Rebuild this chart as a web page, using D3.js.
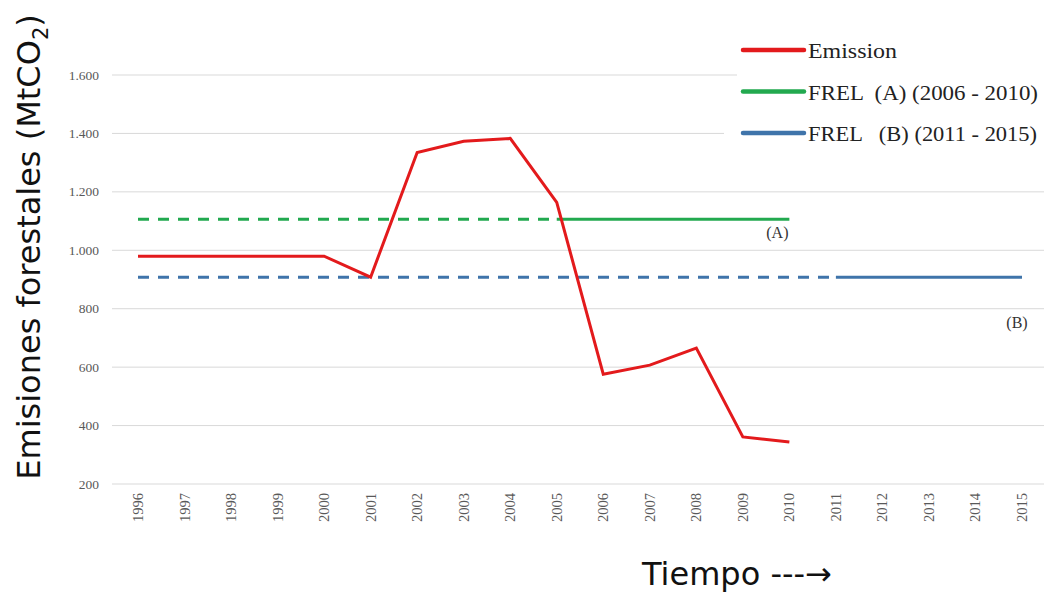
<!DOCTYPE html>
<html><head><meta charset="utf-8">
<script src="https://cdn.jsdelivr.net/npm/d3@7"></script>
<style>body{margin:0;background:#fff}svg{display:block}</style>
</head><body>
<svg id="c" width="1044" height="594"></svg>
<script>
const years = ["1996","1997","1998","1999","2000","2001","2002","2003","2004","2005","2006","2007","2008","2009","2010","2011","2012","2013","2014","2015"];
const emissionYears = ["1996","1997","1998","1999","2000","2001","2002","2003","2004","2005","2006","2007","2008","2009","2010"];
const emission = [980,980,980,980,980,908,1335,1373,1383,1164,576,607,665,361,344];
const frelA = 1106;
const frelB = 908;
const frelADashed = ["1996","2005"], frelASolid = ["2005","2010"];
const frelBDashed = ["1996","2011"], frelBSolid = ["2011","2015"];
const yTicks = [200,400,600,800,1000,1200,1400,1600];
const yTickLabels = ["200","400","600","800","1.000","1.200","1.400","1.600"];
const legendLabels = ["Emission","FREL  (A) (2006 - 2010)","FREL   (B) (2011 - 2015)"];
const colors = {red:"#e31a1c", green:"#22a94f", blue:"#3f74aa"};

const svg = d3.select("#c");
const x = d3.scalePoint().domain(years).range([138,1022]);
const y = d3.scaleLinear().domain([200,1600]).range([484,75]);

// gridlines
svg.append("g").selectAll("line").data(yTicks).join("line")
  .attr("x1",112).attr("x2",1044).attr("y1",d=>y(d)).attr("y2",d=>y(d))
  .attr("stroke","#d9d9d9").attr("stroke-width",1);

// y tick labels
svg.append("g").selectAll("text").data(yTicks).join("text")
  .attr("x",99).attr("y",d=>y(d)+4.5).attr("text-anchor","end")
  .attr("font-family","Liberation Serif").attr("font-size",13.5).attr("fill","#595959")
  .text((d,i)=>yTickLabels[i]);

// x tick labels
svg.append("g").selectAll("text").data(years).join("text")
  .attr("transform",d=>`translate(${x(d)+5},493) rotate(-90)`)
  .attr("text-anchor","end")
  .attr("font-family","Liberation Serif").attr("font-size",14.5).attr("fill","#595959")
  .text(d=>d);

function hline(span, val, color, dashed){
  svg.append("line").attr("x1",x(span[0])).attr("x2",x(span[1]))
    .attr("y1",y(val)).attr("y2",y(val))
    .attr("stroke",color).attr("stroke-width",3)
    .attr("stroke-dasharray",dashed?"11,9":null);
}
hline(frelADashed, frelA, colors.green, true);
hline(frelASolid, frelA, colors.green, false);
hline(frelBDashed, frelB, colors.blue, true);
hline(frelBSolid, frelB, colors.blue, false);

const line = d3.line().x((d,i)=>x(emissionYears[i])).y(d=>y(d));
svg.append("path").datum(emission).attr("d",line)
  .attr("fill","none").attr("stroke",colors.red).attr("stroke-width",3).attr("stroke-linejoin","miter");

// series labels
svg.append("text").attr("x",x("2010")-12).attr("y",y(frelA)+19).attr("text-anchor","middle")
  .attr("font-family","Liberation Serif").attr("font-size",16).attr("fill","#333").text("(A)");
svg.append("text").attr("x",x("2015")-5).attr("y",y(frelB)+51).attr("text-anchor","middle")
  .attr("font-family","Liberation Serif").attr("font-size",16).attr("fill","#333").text("(B)");

// legend
svg.append("rect").attr("x",737).attr("y",28).attr("width",307).attr("height",80).attr("fill","#fff");
svg.append("rect").attr("x",724).attr("y",108).attr("width",320).attr("height",45).attr("fill","#fff");
const lg = svg.append("g");
const legColors=[colors.red,colors.green,colors.blue];
const legLengths=[89,230,229];
legendLabels.forEach((t,i)=>{
  const yy = 50 + i*41.5;
  lg.append("line").attr("x1",743).attr("x2",804).attr("y1",yy).attr("y2",yy)
    .attr("stroke",legColors[i]).attr("stroke-width",4.5).attr("stroke-linecap","round");
  lg.append("text").attr("x",808).attr("y",yy+8).attr("font-family","Liberation Serif")
    .attr("font-size",21).attr("fill","#222").style("white-space","pre")
    .attr("textLength",legLengths[i]).attr("lengthAdjust","spacingAndGlyphs").text(t);
});

// axis titles
const yt = svg.append("text").attr("transform","translate(40,247) rotate(-90)")
  .attr("text-anchor","middle").attr("font-family","DejaVu Sans").attr("font-size",32).attr("fill","#111");
yt.append("tspan").text("Emisiones forestales (MtCO");
yt.append("tspan").attr("font-size",21).attr("dy",8).text("2");
yt.append("tspan").attr("dy",-8).text(")");

svg.append("text").attr("x",642).attr("y",585).attr("font-family","DejaVu Sans")
  .attr("font-size",32).attr("fill","#111").text("Tiempo ---→");
</script>
</body></html>
